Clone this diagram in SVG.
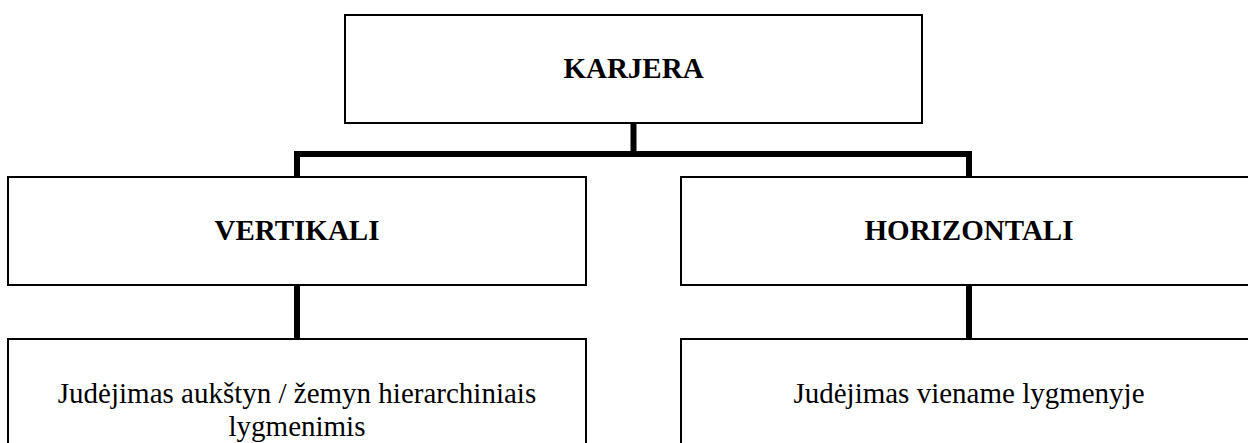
<svg xmlns="http://www.w3.org/2000/svg" width="1248" height="443" viewBox="0 0 1248 443">
<style>
.box{fill:#fff;stroke:#000;stroke-width:2}
.conn{fill:none;stroke:#000;stroke-width:6}
.t{font-family:"Liberation Serif","Times New Roman",serif;font-size:29px;fill:#000;text-anchor:middle}
.b{font-weight:bold}
</style>
<rect width="1248" height="443" fill="#fff"/>
<g id="connectors">
<path class="conn" d="M633.5,123 V154 M294,154 H972 M297,154 V177 M969,154 V177"/>
<path class="conn" d="M297,285 V339 M969,285 V339"/>
</g>
<g id="karjera">
<rect class="box" x="345" y="15" width="577" height="108"/>
<text class="t b" x="633.5" y="78">KARJERA</text>
</g>
<g id="vertikali">
<rect class="box" x="8" y="177" width="578" height="108"/>
<text class="t b" x="297" y="240">VERTIKALI</text>
</g>
<g id="horizontali">
<rect class="box" x="681" y="177" width="600" height="108"/>
<text class="t b" x="969" y="240">HORIZONTALI</text>
</g>
<g id="vertikali-desc">
<rect class="box" x="8" y="339" width="578" height="200"/>
<text class="t" x="297" y="403">Judėjimas aukštyn / žemyn hierarchiniais</text>
<text class="t" x="297" y="436">lygmenimis</text>
</g>
<g id="horizontali-desc">
<rect class="box" x="681" y="339" width="600" height="200"/>
<text class="t" x="969" y="403">Judėjimas viename lygmenyje</text>
</g>
</svg>
